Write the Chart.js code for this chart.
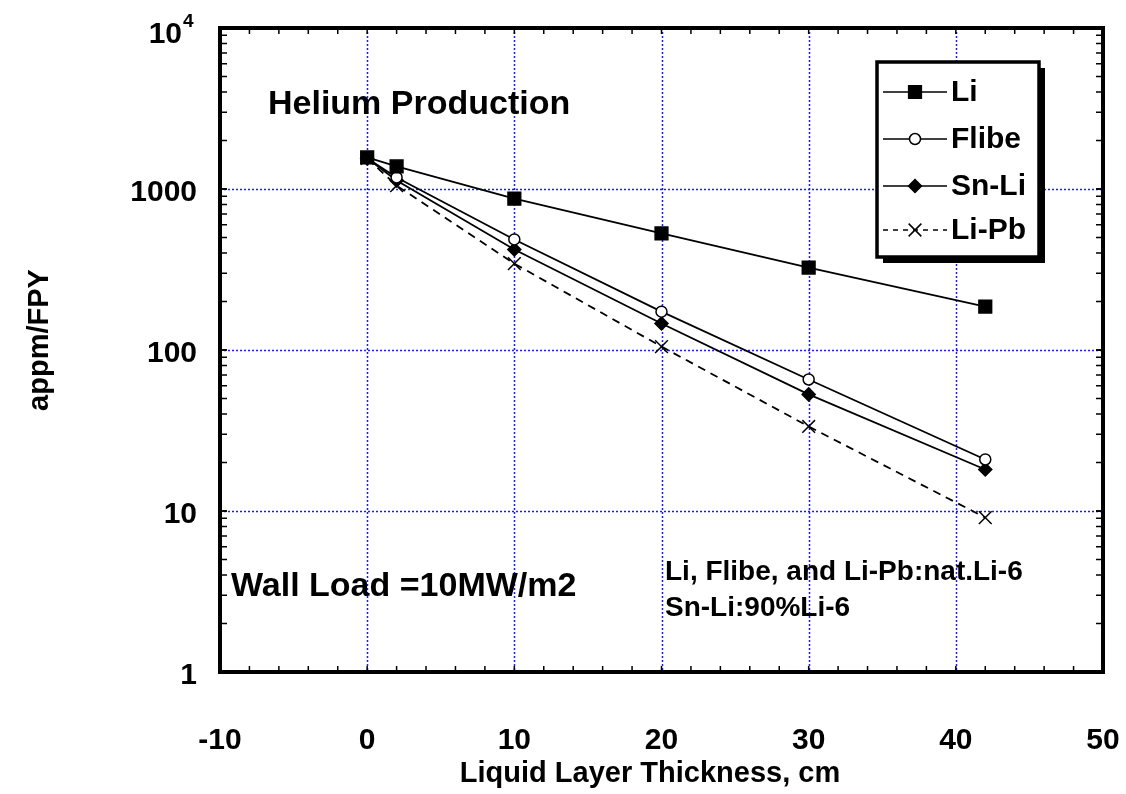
<!DOCTYPE html>
<html>
<head>
<meta charset="utf-8">
<script src="https://cdn.jsdelivr.net/npm/chart.js@4"></script>
<style>
  html, body { margin: 0; padding: 0; background: #fff; }
  #wrap { width: 1126px; height: 794px; }
</style>
</head>
<body>
<div id="wrap"><canvas id="heChart" width="1126" height="794"></canvas></div>
<script>
// data
const thickness = [0, 2, 10, 20, 30, 42];
const liValues = [1570, 1380, 870, 530, 325, 186];
const flibeValues = [1550, 1180, 486, 173, 65.6, 20.9];
const snLiValues = [1550, 1130, 421, 146, 53, 18.1];
const liPbValues = [1550, 1050, 344, 105, 33.5, 9.1];
const seriesNames = ['Li', 'Flibe', 'Sn-Li', 'Li-Pb'];

const xTicks = [-10, 0, 10, 20, 30, 40, 50];
const xGrid = [0, 10, 20, 30, 40];
const yTicks = [1, 10, 100, 1000, 10000];
const yTickLabels = ['1', '10', '100', '1000', '10'];
const yGrid = [10, 100, 1000];

const FONT = '"Liberation Sans", Arial, sans-serif';

function pts(vals) {
    return thickness.map((x, i) => ({ x: x, y: vals[i] }));
}

const styles = [
    { pointStyle: 'rect', radius: 9, fill: '#000', dash: [] },
    { pointStyle: 'circle', radius: 5.5, fill: '#fff', dash: [] },
    { pointStyle: 'rectRot', radius: 6.5, fill: '#000', dash: [] },
    { pointStyle: 'crossRot', radius: 9, fill: '#000', dash: [8, 6] }
];
const allValues = [liValues, flibeValues, snLiValues, liPbValues];

// grid, frame, ticks, labels, notes and legend
const decor = {
    id: 'decor',
    beforeDatasetsDraw(chart) {
        const { ctx, chartArea: a, scales: { x, y } } = chart;
        ctx.save();
        ctx.strokeStyle = '#1a1aff';
        ctx.lineWidth = 1.5;
        ctx.setLineDash([2, 2]);
        xGrid.forEach(v => {
            const px = Math.round(x.getPixelForValue(v)) + 0.5;
            ctx.beginPath(); ctx.moveTo(px, a.top); ctx.lineTo(px, a.bottom); ctx.stroke();
        });
        yGrid.forEach(v => {
            const py = Math.round(y.getPixelForValue(v)) + 0.5;
            ctx.beginPath(); ctx.moveTo(a.left, py); ctx.lineTo(a.right, py); ctx.stroke();
        });
        ctx.restore();
    },
    afterDatasetsDraw(chart) {
        const { ctx, chartArea: a, scales: { x, y } } = chart;
        ctx.save();
        ctx.strokeStyle = '#000';
        ctx.fillStyle = '#000';

        // minor/major ticks, inward, on all four sides
        ctx.lineWidth = 1.5;
        for (let v = -10; v <= 50; v += 2) {
            const px = x.getPixelForValue(v);
            ctx.beginPath();
            ctx.moveTo(px, a.bottom); ctx.lineTo(px, a.bottom - 6);
            ctx.moveTo(px, a.top); ctx.lineTo(px, a.top + 6);
            ctx.stroke();
        }
        for (let d = 1; d < 10000; d *= 10) {
            for (let k = 1; k <= 10; k++) {
                const py = y.getPixelForValue(d * k);
                ctx.beginPath();
                ctx.moveTo(a.left, py); ctx.lineTo(a.left + 7, py);
                ctx.moveTo(a.right, py); ctx.lineTo(a.right - 7, py);
                ctx.stroke();
            }
        }

        // frame
        ctx.lineWidth = 4;
        ctx.strokeRect(a.left, a.top, a.right - a.left, a.bottom - a.top);

        // x tick labels
        ctx.font = 'bold 30px ' + FONT;
        ctx.textAlign = 'center';
        ctx.textBaseline = 'middle';
        xTicks.forEach(v => ctx.fillText(String(v), x.getPixelForValue(v), 741));

        // y tick labels
        ctx.textAlign = 'right';
        yTicks.forEach((v, i) => {
            const py = y.getPixelForValue(v) + 4;
            if (v === 10000) {
                ctx.font = 'bold 30px ' + FONT;
                ctx.fillText(yTickLabels[i], 182, py + 3);
                ctx.font = 'bold 19px ' + FONT;
                ctx.textAlign = 'left';
                ctx.fillText('4', 183, py - 10);
                ctx.textAlign = 'right';
            } else {
                ctx.font = 'bold 30px ' + FONT;
                ctx.fillText(yTickLabels[i], 197, py);
            }
        });

        // axis titles
        ctx.font = 'bold 29px ' + FONT;
        ctx.textAlign = 'center';
        ctx.fillText('Liquid Layer Thickness, cm', 650, 774);
        ctx.save();
        ctx.translate(40, 340);
        ctx.rotate(-Math.PI / 2);
        ctx.fillText('appm/FPY', 0, 0);
        ctx.restore();

        // notes inside the plot
        ctx.textAlign = 'left';
        ctx.textBaseline = 'alphabetic';
        ctx.font = 'bold 34px ' + FONT;
        ctx.fillText('Helium Production', 268, 114);
        ctx.fillText('Wall Load =10MW/m2', 231, 596);
        ctx.font = 'bold 28px ' + FONT;
        ctx.fillText('Li, Flibe, and Li-Pb:nat.Li-6', 665, 580);
        ctx.fillText('Sn-Li:90%Li-6', 665, 616);

        // legend box with shadow
        const L = 877, T = 62, R = 1039, B = 257;
        ctx.fillRect(L + 6, B, R - L, 6);
        ctx.fillRect(R, T + 6, 6, B - T);
        ctx.fillStyle = '#fff';
        ctx.fillRect(L, T, R - L, B - T);
        ctx.lineWidth = 3.5;
        ctx.strokeStyle = '#000';
        ctx.strokeRect(L, T, R - L, B - T);
        ctx.fillStyle = '#000';
        const rows = [92, 139, 186, 230];
        seriesNames.forEach((name, i) => {
            const ry = rows[i];
            const st = styles[i];
            ctx.save();
            ctx.lineWidth = 1.5;
            ctx.setLineDash(st.dash.length ? [5, 5] : []);
            ctx.beginPath(); ctx.moveTo(883, ry); ctx.lineTo(947, ry); ctx.stroke();
            ctx.restore();
            ctx.save();
            ctx.fillStyle = st.fill;
            ctx.strokeStyle = '#000';
            ctx.lineWidth = 1.5;
            Chart.helpers.drawPoint(ctx, {
                pointStyle: st.pointStyle,
                radius: st.radius,
                rotation: 0,
                borderWidth: 1.5
            }, 915, ry);
            ctx.restore();
            ctx.font = 'bold 30px ' + FONT;
            ctx.textBaseline = 'middle';
            ctx.fillText(name, 951, ry + 1);
        });
        ctx.restore();
    }
};

const ctx = document.getElementById('heChart').getContext('2d');
const heChart = new Chart(ctx, {
    type: 'line',
    data: {
        datasets: seriesNames.map((name, i) => ({
            label: name,
            data: pts(allValues[i]),
            borderColor: '#000',
            borderWidth: 1.8,
            borderDash: styles[i].dash,
            backgroundColor: styles[i].fill,
            pointStyle: styles[i].pointStyle,
            pointRadius: styles[i].radius,
            pointBorderColor: '#000',
            pointBackgroundColor: styles[i].fill,
            pointBorderWidth: 1.5,
            fill: false,
            tension: 0
        }))
    },
    options: {
        responsive: false,
        animation: false,
        layout: { padding: { left: 220, top: 28, right: 23, bottom: 122 } },
        scales: {
            x: { type: 'linear', min: -10, max: 50, display: false },
            y: { type: 'logarithmic', min: 1, max: 10000, display: false }
        },
        plugins: {
            legend: { display: false },
            tooltip: { enabled: false }
        }
    },
    plugins: [decor]
});
</script>
</body>
</html>
